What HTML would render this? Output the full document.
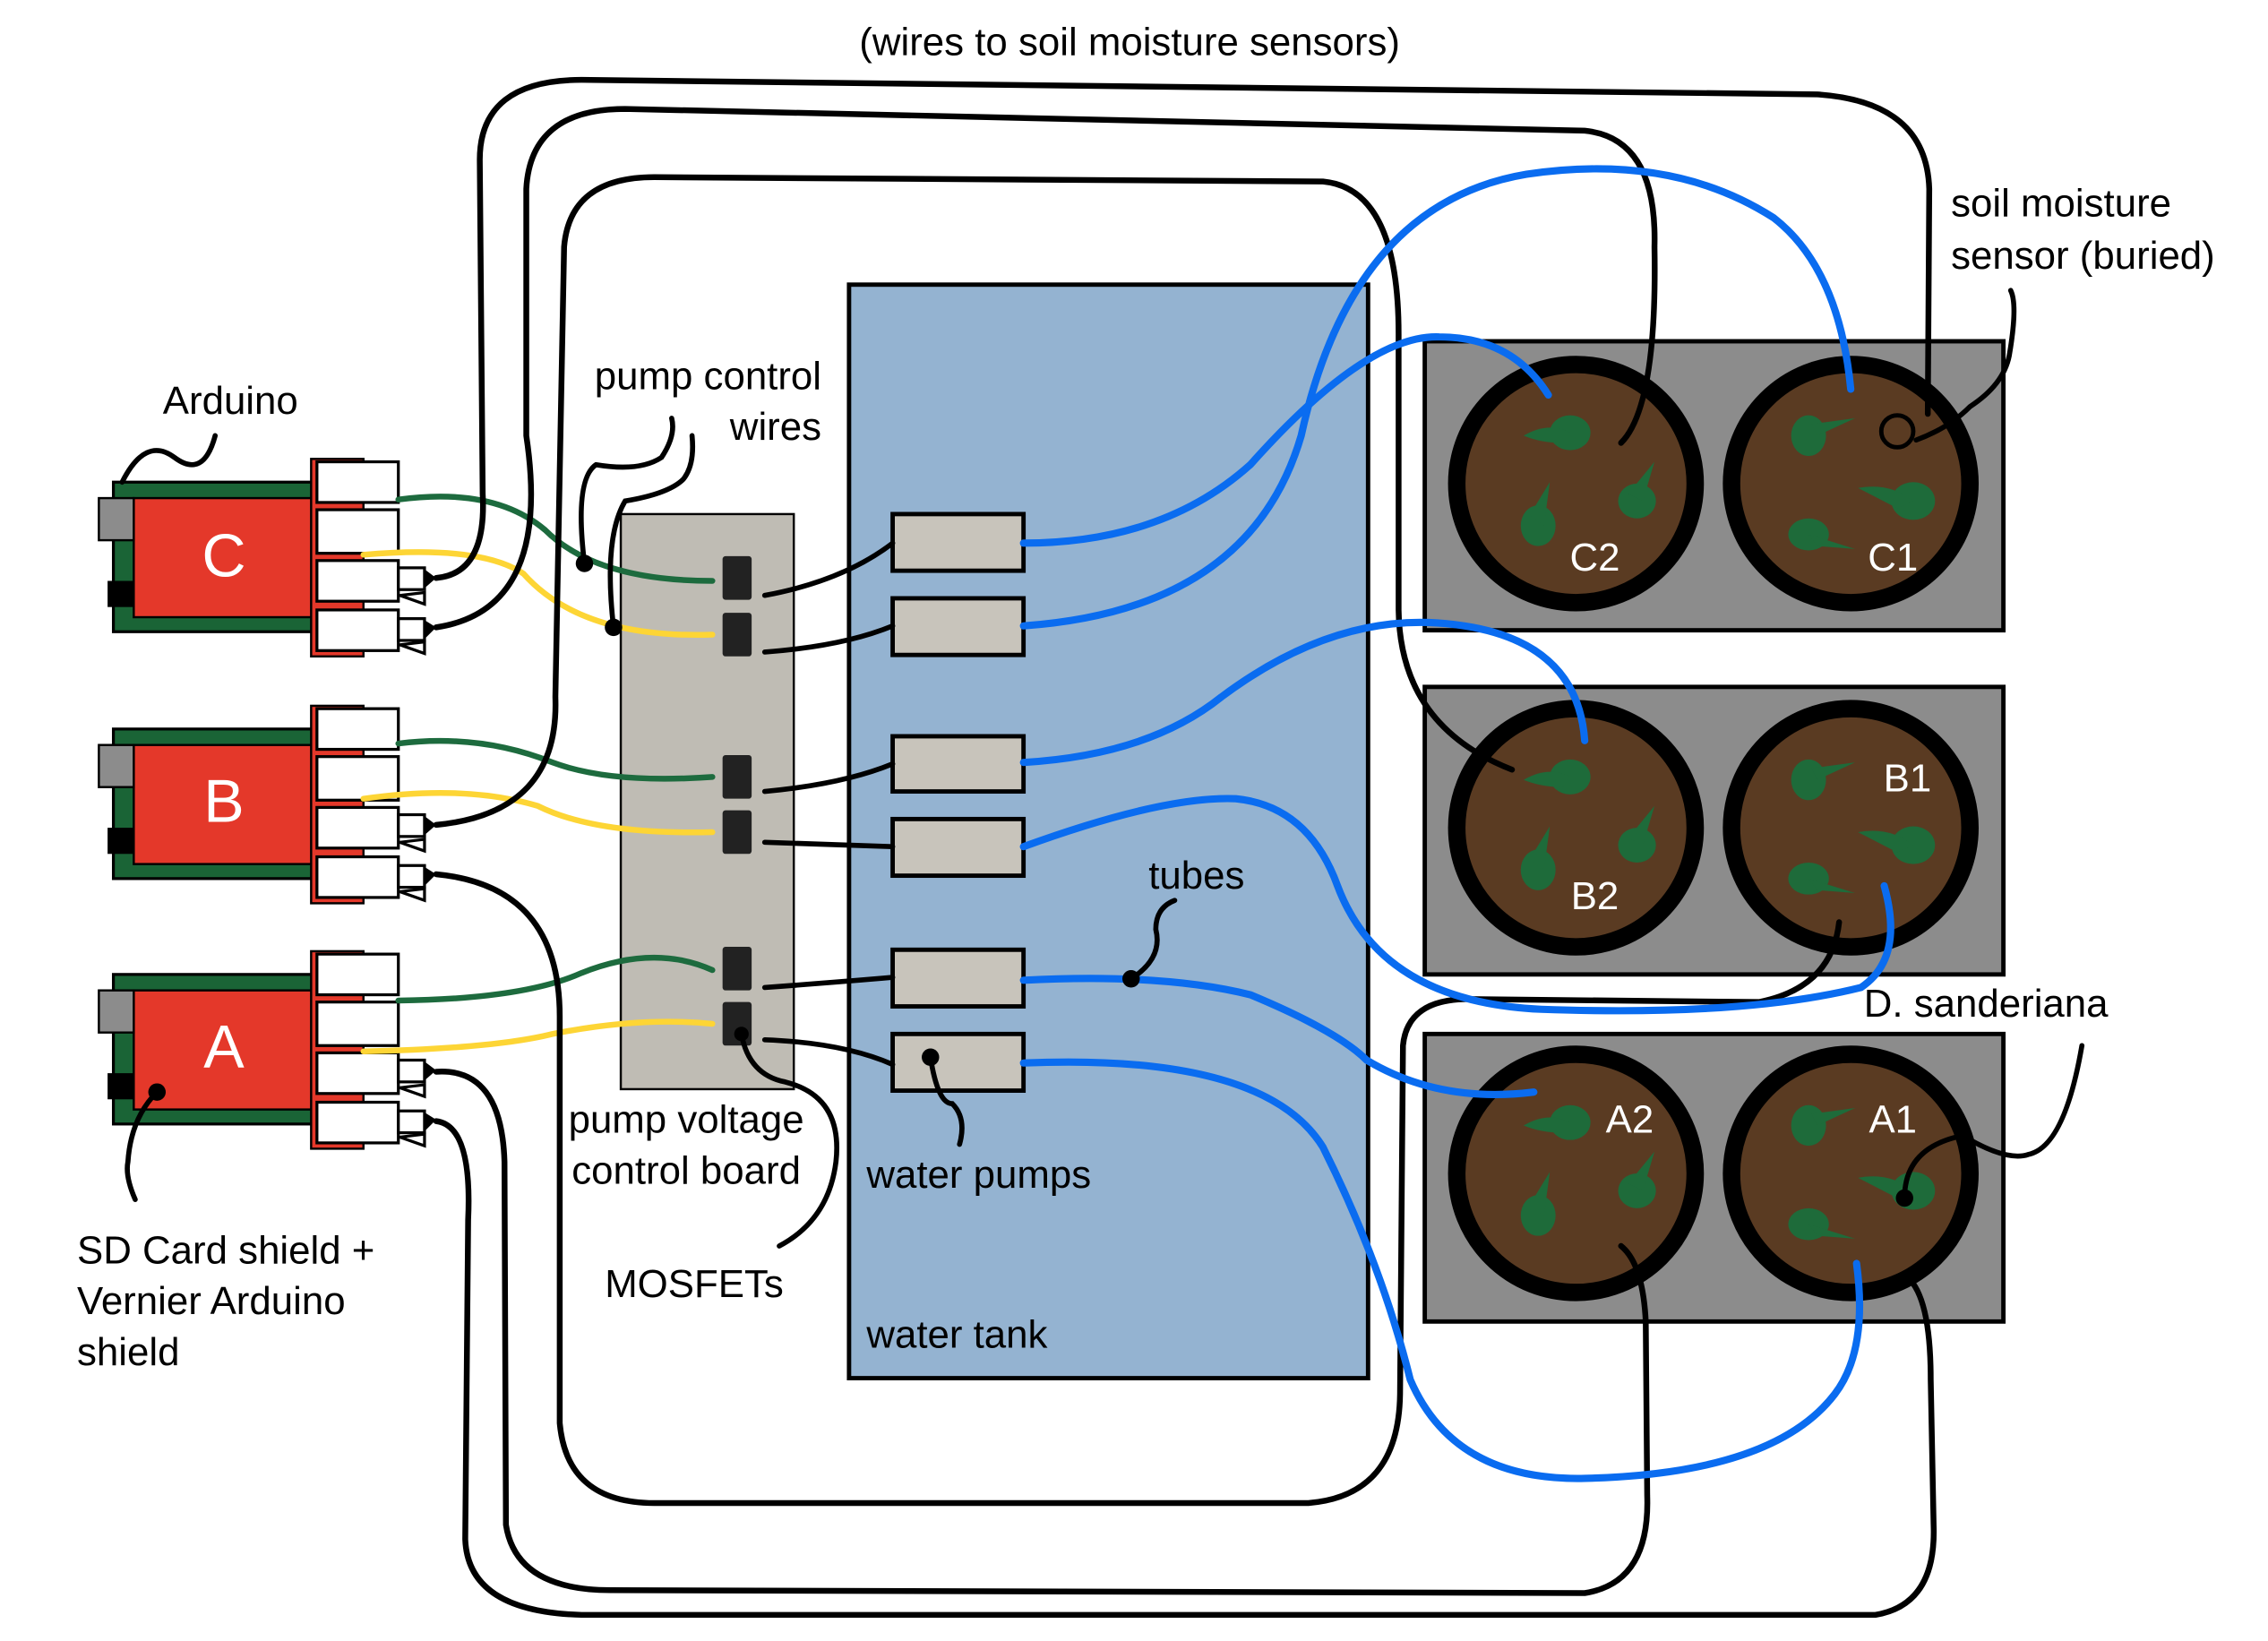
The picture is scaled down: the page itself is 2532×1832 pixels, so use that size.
<!DOCTYPE html>
<html><head><style>html,body{margin:0;padding:0;background:#fff}svg{display:block}</style></head>
<body>
<svg width="2532" height="1832" viewBox="0 0 1560 1130" preserveAspectRatio="none" xmlns="http://www.w3.org/2000/svg" font-family="Liberation Sans, sans-serif">
<rect width="1560" height="1130" fill="#fff"/>
<!-- water tank -->
<rect x="584" y="196" width="357" height="753" fill="#94b3d1" stroke="#000" stroke-width="3"/>
<!-- control board -->
<rect x="427" y="354" width="119" height="396" fill="#bfbcb4" stroke="#000" stroke-width="1.5"/>
<!-- trays -->
<g fill="#8c8c8c" stroke="#000" stroke-width="3">
<rect x="980" y="235" width="398" height="199"/>
<rect x="980" y="473" width="398" height="198"/>
<rect x="980" y="712" width="398" height="198"/>
</g>
<g stroke="#000" stroke-width="12" fill="#5a3b22">
<circle cx="1084" cy="333" r="82"/><circle cx="1273" cy="333" r="82"/>
<circle cx="1084" cy="570" r="82"/><circle cx="1273" cy="570" r="82"/>
<circle cx="1084" cy="808" r="82"/><circle cx="1273" cy="808" r="82"/>
</g>
<!-- plants -->
<g fill="#1e6b3a">
<g id="pl"><ellipse cx="1080" cy="298" rx="14" ry="12"/><path d="M1048 300 Q1065 290 1080 298 L1075 305 Q1060 305 1048 300Z"/>
<ellipse cx="1126" cy="345" rx="13" ry="12"/><path d="M1138 318 L1130 345 L1120 340Z"/>
<ellipse cx="1058" cy="362" rx="12" ry="14"/><path d="M1066 332 L1062 362 L1052 355Z"/></g>
<use href="#pl" transform="translate(0,237)"/><use href="#pl" transform="translate(0,475)"/>
<g id="pr"><ellipse cx="1244" cy="300" rx="12" ry="14"/><path d="M1276 288 L1250 300 L1246 292Z"/>
<ellipse cx="1316" cy="345" rx="15" ry="13"/><path d="M1278 336 Q1300 332 1316 345 L1305 350Z"/>
<ellipse cx="1244" cy="368" rx="14" ry="11"/><path d="M1244 368 L1276 378 L1250 376Z"/></g>
<use href="#pr" transform="translate(0,237)"/><use href="#pr" transform="translate(0,475)"/>
</g>
<g fill="#fff" font-size="27" text-anchor="middle">
<text x="1097" y="393">C2</text><text x="1302" y="393">C1</text>
<text x="1097" y="626">B2</text><text x="1312" y="545">B1</text>
<text x="1121" y="780">A2</text><text x="1302" y="780">A1</text>
</g>
<circle cx="1305" cy="297" r="11" fill="none" stroke="#000" stroke-width="3"/>
<!-- pumps -->
<g fill="#c8c4bb" stroke="#000" stroke-width="3">
<rect x="614" y="354" width="90" height="39"/><rect x="614" y="412" width="90" height="39"/>
<rect x="614" y="507" width="90" height="38"/><rect x="614" y="564" width="90" height="39"/>
<rect x="614" y="654" width="90" height="39"/><rect x="614" y="712" width="90" height="39"/>
</g>
<!-- mosfets -->
<g fill="#222"><rect x="497" y="383" width="20" height="30" rx="2"/><rect x="497" y="422" width="20" height="30" rx="2"/>
<rect x="497" y="520" width="20" height="30" rx="2"/><rect x="497" y="558" width="20" height="30" rx="2"/>
<rect x="497" y="652" width="20" height="30" rx="2"/><rect x="497" y="690" width="20" height="30" rx="2"/></g>
<!-- mosfet to pump wires -->
<g stroke="#000" stroke-width="3.5" fill="none" stroke-linecap="round">
<path d="M526 410 Q580 400 614 374"/><path d="M526 449 Q580 445 614 431"/>
<path d="M526 545 Q580 540 614 526"/><path d="M526 580 Q580 582 614 583"/>
<path d="M526 680 Q580 676 614 673"/><path d="M526 716 Q580 718 614 733"/>
</g>
<!-- arduinos -->
<g id="ard">
<rect x="78" y="332" width="147" height="103" fill="#1a6436" stroke="#000" stroke-width="2"/>
<rect x="92" y="343" width="126" height="82" fill="#e4382a" stroke="#000" stroke-width="1.5"/>
<rect x="68" y="343" width="24" height="29" fill="#8c8c8c" stroke="#000" stroke-width="1.5"/>
<rect x="74" y="400" width="18" height="18" fill="#000"/>
<rect x="214" y="316" width="36" height="136" fill="#e4382a" stroke="#000" stroke-width="1.5"/>
<g fill="#fff" stroke="#000" stroke-width="2">
<rect x="218" y="318" width="56" height="28"/><rect x="218" y="351" width="56" height="30"/>
<rect x="218" y="386" width="56" height="28"/><rect x="218" y="420" width="56" height="28"/>
<rect x="274" y="391" width="18" height="15"/><rect x="274" y="426" width="18" height="15"/>
<path d="M275 410 L292 416 L292 408Z"/><path d="M275 444 L292 450 L292 442Z"/>
</g>
<path d="M292 392 L300 398 L292 405Z M292 427 L300 432 L292 440Z" fill="#000"/>
</g>
<use href="#ard" transform="translate(0,170)"/><use href="#ard" transform="translate(0,339)"/>
<g fill="#fff" font-size="42" text-anchor="middle"><text x="154" y="397">C</text><text x="154" y="566">B</text><text x="154" y="735">A</text></g>
<!-- green / yellow wires -->
<g fill="none" stroke-width="4" stroke-linecap="round">
<path d="M274 344 Q340 335 375 365 Q410 400 490 400" stroke="#1d6b3e"/>
<path d="M250 382 Q330 375 360 395 Q400 440 490 437" stroke="#fdd535"/>
<path d="M274 512 Q330 505 380 525 Q420 540 490 535" stroke="#1d6b3e"/>
<path d="M250 550 Q320 540 370 555 Q410 575 490 573" stroke="#fdd535"/>
<path d="M274 689 Q360 688 400 670 Q450 650 490 668" stroke="#1d6b3e"/>
<path d="M250 724 Q340 722 380 712 Q440 700 490 705" stroke="#fdd535"/>
</g>
<!-- black long wires -->
<g stroke="#000" stroke-width="4" fill="none" stroke-linecap="round">
<path d="M300 398 Q335 395 332 340 L330 110 Q330 55 400 55 L1250 65 Q1325 70 1327 130 L1326 285"/>
<path d="M300 432 Q380 420 362 300 L362 130 Q365 75 430 75 L1090 90 Q1140 95 1138 170 Q1140 280 1115 305"/>
<path d="M300 568 Q385 560 382 480 L388 170 Q392 122 450 122 L910 125 Q962 130 962 230 L962 420 Q963 500 1040 530"/>
<path d="M300 602 Q385 610 385 700 L385 980 Q390 1035 450 1035 L900 1035 Q962 1030 963 960 L965 720 Q968 688 1010 688 L1210 690 Q1260 680 1265 635"/>
<path d="M300 738 Q345 735 347 800 L348 1050 Q355 1095 420 1095 L1090 1097 Q1135 1090 1133 1030 L1132 910 Q1130 870 1115 858"/>
<path d="M300 772 Q325 775 322 840 L320 1060 Q322 1110 400 1112 L1290 1112 Q1332 1105 1330 1050 L1328 950 Q1328 890 1310 878"/>
</g>
<!-- blue tubes -->
<g stroke="#0a6cf0" stroke-width="5" fill="none" stroke-linecap="round">
<path d="M704 374 Q800 374 860 320 Q940 230 990 232 Q1040 232 1065 272"/>
<path d="M704 431 Q860 420 895 300 Q930 140 1050 120 Q1150 105 1220 150 Q1265 185 1273 268"/>
<path d="M704 525 Q790 520 840 480 Q920 420 1000 430 Q1085 440 1090 510"/>
<path d="M704 583 Q800 548 850 550 Q900 555 920 610 Q950 690 1060 695 Q1200 700 1280 680 Q1310 660 1296 610"/>
<path d="M704 675 Q800 670 860 685 Q920 710 940 730 Q990 760 1055 752"/>
<path d="M704 732 Q870 725 910 790 Q950 870 970 950 Q1000 1020 1090 1018 Q1220 1015 1262 960 Q1285 930 1277 870"/>
</g>
<!-- annotation leaders -->
<g stroke="#000" stroke-width="3.5" fill="none" stroke-linecap="round">
<path d="M84 332 Q100 300 120 315 Q140 330 148 300"/>
<path d="M402 388 Q395 330 410 320 Q440 325 455 315 Q465 300 462 288"/>
<path d="M422 432 Q415 370 430 345 Q460 340 470 330 Q478 320 476 300"/>
<path d="M108 752 Q90 770 88 800 Q86 810 93 826"/>
<path d="M510 712 Q515 740 540 745 Q580 755 575 800 Q570 840 536 858"/>
<path d="M640 728 Q645 760 655 760 Q665 770 660 788"/>
<path d="M778 674 Q800 660 795 640 Q795 625 808 620"/>
<path d="M1310 825 Q1310 790 1350 782 Q1380 800 1395 795 Q1420 790 1432 720"/>
<path d="M1318 303 Q1340 295 1355 280 Q1378 265 1382 245 Q1388 210 1383 200"/>
</g>
<g fill="#000"><circle cx="402" cy="388" r="6"/><circle cx="422" cy="432" r="6"/><circle cx="108" cy="752" r="6"/>
<circle cx="510" cy="712" r="5"/><circle cx="640" cy="728" r="6"/><circle cx="778" cy="674" r="6"/><circle cx="1310" cy="825" r="6"/></g>
<!-- labels -->
<g font-size="27" fill="#000">
<text x="777" y="38" text-anchor="middle">(wires to soil moisture sensors)</text>
<text x="112" y="285">Arduino</text>
<text x="565" y="268" text-anchor="end">pump control</text>
<text x="565" y="303" text-anchor="end">wires</text>
<text x="1342" y="149">soil moisture</text>
<text x="1342" y="185">sensor (buried)</text>
<text x="790" y="612">tubes</text>
<text x="1282" y="700">D. sanderiana</text>
<text x="472" y="780" text-anchor="middle">pump voltage</text>
<text x="472" y="815" text-anchor="middle">control board</text>
<text x="596" y="818">water pumps</text>
<text x="416" y="893">MOSFETs</text>
<text x="596" y="928">water tank</text>
<text x="53" y="870">SD Card shield +</text>
<text x="53" y="905">Vernier Arduino</text>
<text x="53" y="940">shield</text>
</g>
</svg>
</body></html>
